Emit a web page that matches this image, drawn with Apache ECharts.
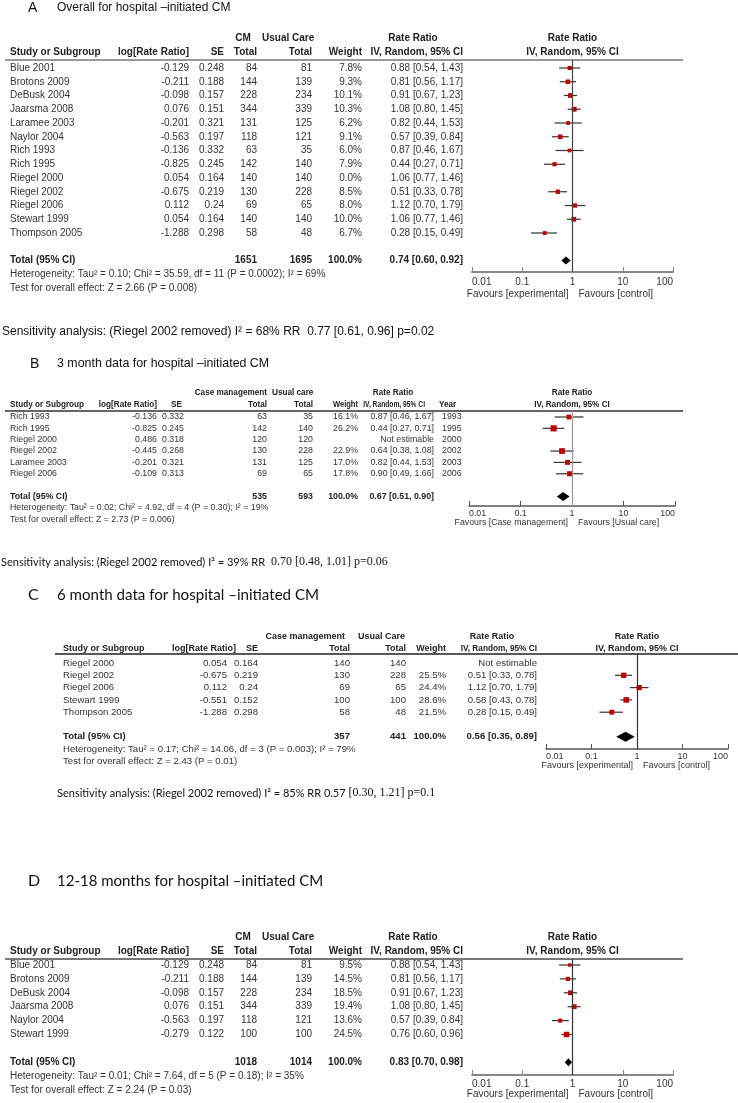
<!DOCTYPE html>
<html><head><meta charset="utf-8">
<script src="https://cdn.jsdelivr.net/npm/echarts@6/dist/echarts.min.js"></script>
<style>html,body{margin:0;padding:0;background:#fff}#c{width:738px;height:1103px}</style>
</head><body><div id="c"></div>
<script>
// ================= DATA =================
const tickLabels = ['0.01', '0.1', '1', '10', '100'];

// ---- A: Overall ----
const A_title = 'Overall for hospital \u2013initiated CM';
const A_studies = ['Blue 2001','Brotons 2009','DeBusk 2004','Jaarsma 2008','Laramee 2003','Naylor 2004','Rich 1993','Rich 1995','Riegel 2000','Riegel 2002','Riegel 2006','Stewart 1999','Thompson 2005'];
const A_logRR = [-0.129,-0.211,-0.098,0.076,-0.201,-0.563,-0.136,-0.825,0.054,-0.675,0.112,0.054,-1.288];
const A_se = [0.248,0.188,0.157,0.151,0.321,0.197,0.332,0.245,0.164,0.219,0.24,0.164,0.298];
const A_cmTotal = [84,144,228,344,131,118,63,142,140,130,69,140,58];
const A_ucTotal = [81,139,234,339,125,121,35,140,140,228,65,140,48];
const A_weight = [7.8,9.3,10.1,10.3,6.2,9.1,6.0,7.9,0.0,8.5,8.0,10.0,6.7];
const A_rr = [0.88,0.81,0.91,1.08,0.82,0.57,0.87,0.44,1.06,0.51,1.12,1.06,0.28];
const A_lo = [0.54,0.56,0.67,0.80,0.44,0.39,0.46,0.27,0.77,0.33,0.70,0.77,0.15];
const A_hi = [1.43,1.17,1.23,1.45,1.53,0.84,1.67,0.71,1.46,0.78,1.79,1.46,0.49];
const A_total = [1651, 1695, 100.0];
const A_totalRR = [0.74, 0.60, 0.92];
const A_notes = ['Heterogeneity: Tau\u00b2 = 0.10; Chi\u00b2 = 35.59, df = 11 (P = 0.0002); I\u00b2 = 69%', 'Test for overall effect: Z = 2.66 (P = 0.008)'];
const A_favours = ['Favours [experimental]', 'Favours [control]'];
const A_sens = ['Sensitivity analysis: (Riegel 2002 removed) I\u00b2 = 68% RR  0.77 [0.61, 0.96] p=0.02', ''];

// ---- B: 3 month ----
const B_title = '3 month data for hospital \u2013initiated CM';
const B_studies = ['Rich 1993','Rich 1995','Riegel 2000','Riegel 2002','Laramee 2003','Riegel 2006'];
const B_logRR = [-0.136,-0.825,0.486,-0.445,-0.201,-0.109];
const B_se = [0.332,0.245,0.318,0.268,0.321,0.313];
const B_cmTotal = [63,142,120,130,131,69];
const B_ucTotal = [35,140,120,228,125,65];
const B_weight = [16.1,26.2,null,22.9,17.0,17.8];
const B_rr = [0.87,0.44,null,0.64,0.82,0.90];
const B_lo = [0.46,0.27,null,0.38,0.44,0.49];
const B_hi = [1.67,0.71,null,1.08,1.53,1.66];
const B_years = ['1993','1995','2000','2002','2003','2006'];
const B_total = [535, 593, 100.0];
const B_totalRR = [0.67, 0.51, 0.90];
const B_notes = ['Heterogeneity: Tau\u00b2 = 0.02; Chi\u00b2 = 4.92, df = 4 (P = 0.30); I\u00b2 = 19%', 'Test for overall effect: Z = 2.73 (P = 0.006)'];
const B_favours = ['Favours [Case management]', 'Favours [Usual care]'];
const B_sens = ['Sensitivity analysis: (Riegel 2002 removed) I\u00b2 = 39% RR ', ' 0.70 [0.48, 1.01] p=0.06'];

// ---- C: 6 month ----
const C_title = '6 month data for hospital \u2013initiated CM';
const C_studies = ['Riegel 2000','Riegel 2002','Riegel 2006','Stewart 1999','Thompson 2005'];
const C_logRR = [0.054,-0.675,0.112,-0.551,-1.288];
const C_se = [0.164,0.219,0.24,0.152,0.298];
const C_cmTotal = [140,130,69,100,58];
const C_ucTotal = [140,228,65,100,48];
const C_weight = [null,25.5,24.4,28.6,21.5];
const C_rr = [null,0.51,1.12,0.58,0.28];
const C_lo = [null,0.33,0.70,0.43,0.15];
const C_hi = [null,0.78,1.79,0.78,0.49];
const C_total = [357, 441, 100.0];
const C_totalRR = [0.56, 0.35, 0.89];
const C_notes = ['Heterogeneity: Tau\u00b2 = 0.17; Chi\u00b2 = 14.06, df = 3 (P = 0.003); I\u00b2 = 79%', 'Test for overall effect: Z = 2.43 (P = 0.01)'];
const C_favours = ['Favours [experimental]', 'Favours [control]'];
const C_sens = ['Sensitivity analysis: (Riegel 2002 removed) I\u00b2 = 85% RR 0.57 ', '[0.30, 1.21] p=0.1'];

// ---- D: 12-18 months ----
const D_title = '12-18 months for hospital \u2013initiated CM';
const D_studies = ['Blue 2001','Brotons 2009','DeBusk 2004','Jaarsma 2008','Naylor 2004','Stewart 1999'];
const D_logRR = [-0.129,-0.211,-0.098,0.076,-0.563,-0.279];
const D_se = [0.248,0.188,0.157,0.151,0.197,0.122];
const D_cmTotal = [84,144,228,344,118,100];
const D_ucTotal = [81,139,234,339,121,100];
const D_weight = [9.5,14.5,18.5,19.4,13.6,24.5];
const D_rr = [0.88,0.81,0.91,1.08,0.57,0.76];
const D_lo = [0.54,0.56,0.67,0.80,0.39,0.60];
const D_hi = [1.43,1.17,1.23,1.45,0.84,0.96];
const D_total = [1018, 1014, 100.0];
const D_totalRR = [0.83, 0.70, 0.98];
const D_notes = ['Heterogeneity: Tau\u00b2 = 0.01; Chi\u00b2 = 7.64, df = 5 (P = 0.18); I\u00b2 = 35%', 'Test for overall effect: Z = 2.24 (P = 0.03)'];
const D_favours = ['Favours [experimental]', 'Favours [control]'];

// ================= LAYOUT =================
const SANS = '"Liberation Sans", Arial, sans-serif';
const LATO = 'Lato, "Noto Sans", sans-serif';
const SERIF = '"Liberation Serif", "Times New Roman", serif';

const hdrStd = [
  ['CM', 243, 1, 'center'], ['Usual Care', 262, 1, 'left'], ['Rate Ratio', 413, 1, 'center'], ['Rate Ratio', 572.5, 1, 'center'],
  ['Study or Subgroup', 10, 2, 'left'], ['log[Rate Ratio]', 189, 2, 'right'], ['SE', 224, 2, 'right'], ['Total', 257, 2, 'right'],
  ['Total', 312, 2, 'right'], ['Weight', 362, 2, 'right'], ['IV, Random, 95% CI', 463, 2, 'right'], ['IV, Random, 95% CI', 572.5, 2, 'center']
];
const colsStd = {study: 10, logrr: 189, se: 224, cm: 257, uc: 312, w: 362, rr: 463};

const L_A = {letter: 'A', letterX: 28, titleX: 57, titleY: 8, titleFamily: SANS, titleSize: 12, letterSize: 14,
  fs: 10, hdrFs: 10, hdrScale: 1, hdr1Y: 38, hdr2Y: 52, lineY: 60, lineX1: 5, lineX2: 683, lineColor: '#999', lineW: 2,
  rowTop: 68, rowStep: 13.75, totalIdx: 14, axisY: 272, axisX1: 472, axisX2: 673, axisColor: '#888', axisW: 2,
  refColor: '#444', axisFs: 10, labelMargin: 5, favY: 294, sq: 1.5, dh: 4, notesX: 10,
  headers: hdrStd, cols: colsStd, sensX: 2, sensY: 332, sensFamily: SANS, sensSize: 12};

const L_B = {letter: 'B', letterX: 30, titleX: 57, titleY: 364, titleFamily: SANS, titleSize: 12.4, letterSize: 14,
  fs: 8.8, hdrFs: 8.8, hdrScale: 0.93, hdr1Y: 393, hdr2Y: 405, lineY: 411, lineX1: 5, lineX2: 683, lineColor: '#333', lineW: 1.5,
  rowTop: 417, rowStep: 11.35, totalIdx: 7, axisY: 506, axisX1: 469, axisX2: 675, axisColor: '#555', axisW: 1.5,
  refColor: '#999', axisFs: 8.8, labelMargin: 3, favY: 523, sq: 1.2, dh: 4.5, notesX: 10,
  headers: [
    ['Case management', 267, 1, 'right'], ['Usual care', 272, 1, 'left'], ['Rate Ratio', 393, 1, 'center'], ['Rate Ratio', 572, 1, 'center'],
    ['Study or Subgroup', 10, 2, 'left'], ['log[Rate Ratio]', 157, 2, 'right'], ['SE', 182, 2, 'right'], ['Total', 267, 2, 'right'],
    ['Total', 313, 2, 'right'], ['Weight', 358, 2, 'right', 0.86], ['IV, Random, 95% CI', 425, 2, 'right', 0.76], ['Year', 439, 2, 'left'],
    ['IV, Random, 95% CI', 572, 2, 'center']
  ],
  cols: {study: 10, logrr: 157, se: 184, cm: 267, uc: 313, w: 358, rr: 434, year: 442},
  sensX: 1, sensY: 562, sensFamily: LATO, sensSize: 11, sens2Family: SERIF, sens2Size: 12};

const L_C = {letter: 'C', letterX: 28, titleX: 57, titleY: 595, titleFamily: LATO, titleSize: 15.1, letterSize: 16,
  fs: 9.6, hdrFs: 9.4, hdrScale: 0.96, hdr1Y: 636, hdr2Y: 648, lineY: 654, lineX1: 55, lineX2: 738, lineColor: '#222', lineW: 1.5,
  rowTop: 663, rowStep: 12.3, totalIdx: 6, axisY: 749, axisX1: 546, axisX2: 728, axisColor: '#555', axisW: 1.5,
  refColor: '#333', axisFs: 9, labelMargin: 3, favY: 766, sq: 1.05, dh: 5, notesX: 63,
  headers: [
    ['Case management', 345, 1, 'right'], ['Usual Care', 405, 1, 'right'], ['Rate Ratio', 492, 1, 'center'], ['Rate Ratio', 637, 1, 'center'],
    ['Study or Subgroup', 63, 2, 'left'], ['log[Rate Ratio]', 236, 2, 'right'], ['SE', 258, 2, 'right'], ['Total', 350, 2, 'right'],
    ['Total', 406, 2, 'right'], ['Weight', 446, 2, 'right'], ['IV, Random, 95% CI', 537, 2, 'right', 0.88], ['IV, Random, 95% CI', 637, 2, 'center']
  ],
  cols: {study: 63, logrr: 227, se: 258, cm: 350, uc: 406, w: 446, rr: 537},
  sensX: 57, sensY: 793, sensFamily: LATO, sensSize: 11, sens2Family: SERIF, sens2Size: 12};

const L_D = {letter: 'D', letterX: 28, titleX: 57, titleY: 881, titleFamily: LATO, titleSize: 15, letterSize: 16,
  fs: 10, hdrFs: 10, hdrScale: 1, hdr1Y: 937, hdr2Y: 951, lineY: 959, lineX1: 5, lineX2: 683, lineColor: '#777', lineW: 2,
  rowTop: 965, rowStep: 13.9, totalIdx: 7, axisY: 1075, axisX1: 472, axisX2: 673, axisColor: '#888', axisW: 2,
  refColor: '#333', axisFs: 10, labelMargin: 4, favY: 1094, sq: 1.1, dh: 4, notesX: 10,
  headers: hdrStd, cols: colsStd};

// ================= BUILD =================
const option = {animation: false, backgroundColor: '#fff', grid: [], xAxis: [], yAxis: [], series: [], graphic: []};

function T(text, x, y, o) {
  const el = {type: 'text', x: x, y: y, silent: true, z: 10,
    style: {text: text, fontSize: o.size, fontFamily: o.family || SANS, fontWeight: o.bold ? 'bold' : 'normal',
      fill: o.color || '#333', align: o.align || 'left', verticalAlign: 'middle'}};
  if (o.sx && o.sx !== 1) el.scaleX = o.sx;
  return el;
}
const fmt2 = v => v.toFixed(2);

function addPanel(d, L) {
  const gi = option.grid.length;
  const G = option.graphic;
  G.push(T(L.letter, L.letterX, L.titleY, {size: L.letterSize, family: L.titleFamily, color: '#111'}));
  G.push(T(d.title, L.titleX, L.titleY, {size: L.titleSize, family: L.titleFamily, color: '#111'}));
  L.headers.forEach(h => G.push(T(h[0], h[1], h[2] === 1 ? L.hdr1Y : L.hdr2Y,
    {size: L.hdrFs, bold: true, align: h[3], color: '#222', sx: h[4] || L.hdrScale})));
  G.push({type: 'line', silent: true, shape: {x1: L.lineX1, y1: L.lineY, x2: L.lineX2, y2: L.lineY}, style: {stroke: L.lineColor, lineWidth: L.lineW}});
  const rowY = i => L.rowTop + i * L.rowStep;
  const c = L.cols;
  d.studies.forEach((s, i) => {
    const y = rowY(i);
    const r = {size: L.fs, align: 'right'};
    G.push(T(s, c.study, y, {size: L.fs}));
    G.push(T(String(d.logRR[i]), c.logrr, y, r));
    G.push(T(String(d.se[i]), c.se, y, r));
    G.push(T(String(d.cm[i]), c.cm, y, r));
    G.push(T(String(d.uc[i]), c.uc, y, r));
    G.push(T(d.weight[i] == null ? '' : d.weight[i].toFixed(1) + '%', c.w, y, r));
    G.push(T(d.rr[i] == null ? 'Not estimable' : fmt2(d.rr[i]) + ' [' + fmt2(d.lo[i]) + ', ' + fmt2(d.hi[i]) + ']', c.rr, y, r));
    if (d.years) G.push(T(d.years[i], c.year, y, {size: L.fs}));
  });
  const ty = rowY(L.totalIdx);
  const b = {size: L.fs, align: 'right', bold: true, color: '#222'};
  G.push(T('Total (95% CI)', c.study, ty, {size: L.fs, bold: true, color: '#222'}));
  G.push(T(String(d.total[0]), c.cm, ty, b));
  G.push(T(String(d.total[1]), c.uc, ty, b));
  G.push(T(d.total[2].toFixed(1) + '%', c.w, ty, b));
  G.push(T(fmt2(d.totalRR[0]) + ' [' + fmt2(d.totalRR[1]) + ', ' + fmt2(d.totalRR[2]) + ']', c.rr, ty, b));
  G.push(T(d.notes[0], L.notesX, rowY(L.totalIdx + 1), {size: L.fs}));
  G.push(T(d.notes[1], L.notesX, rowY(L.totalIdx + 2), {size: L.fs}));
  const oneX = L.axisX1 + (L.axisX2 - L.axisX1) / 2;
  G.push(T(d.favours[0], oneX - 4, L.favY, {size: L.axisFs, align: 'right'}));
  G.push(T(d.favours[1], oneX + 6, L.favY, {size: L.axisFs}));
  if (d.sens) {
    const rich = {a: {fontFamily: L.sensFamily, fontSize: L.sensSize, fill: '#111'},
                  b: {fontFamily: L.sens2Family || L.sensFamily, fontSize: L.sens2Size || L.sensSize, fill: '#111'}};
    G.push({type: 'text', x: L.sensX, y: L.sensY, silent: true,
      style: {text: '{a|' + d.sens[0] + '}' + (d.sens[1] ? '{b|' + d.sens[1] + '}' : ''), rich: rich, verticalAlign: 'middle', align: 'left',
        fontFamily: L.sensFamily, fontSize: L.sensSize, fill: '#111'}});
  }

  // ---- plot ----
  const ymin = -(L.rowTop - L.lineY) / L.rowStep;
  const ymax = ymin + (L.axisY - L.lineY) / L.rowStep;
  option.grid.push({left: L.axisX1, top: L.lineY, width: L.axisX2 - L.axisX1, height: L.axisY - L.lineY, containLabel: false});
  option.xAxis.push({gridIndex: gi, type: 'log', logBase: 10, min: 0.01, max: 100, position: 'bottom',
    axisLine: {show: true, onZero: false, lineStyle: {color: L.axisColor, width: L.axisW}},
    axisTick: {show: true, inside: true, length: 5, lineStyle: {color: L.axisColor, width: 1}},
    minorTick: {show: false}, splitLine: {show: false},
    axisLabel: {fontSize: L.axisFs, color: '#333', fontFamily: SANS, margin: L.labelMargin,
      alignMinLabel: 'left', alignMaxLabel: 'right', showMinLabel: true, showMaxLabel: true,
      formatter: v => tickLabels[Math.round(Math.log10(v)) + 2]}});
  option.yAxis.push({gridIndex: gi, type: 'value', inverse: true, min: ymin, max: ymax, show: false});

  const rows = [];
  d.studies.forEach((s, i) => {
    if (d.rr[i] != null && d.weight[i] > 0) rows.push([i, d.lo[i], d.hi[i], d.rr[i], d.weight[i]]);
  });
  option.series.push({type: 'custom', xAxisIndex: gi, yAxisIndex: gi, data: rows, encode: {x: [1, 2, 3], y: 0}, z: 3,
    renderItem: function (params, api) {
      const i = api.value(0);
      const p1 = api.coord([api.value(1), i]), p2 = api.coord([api.value(2), i]), pc = api.coord([api.value(3), i]);
      const s = Math.max(3, L.sq * Math.sqrt(api.value(4)));
      return {type: 'group', children: [
        {type: 'line', shape: {x1: p1[0], y1: p1[1], x2: p2[0], y2: p2[1]}, style: {stroke: '#333', lineWidth: 1.2}},
        {type: 'rect', shape: {x: pc[0] - s / 2, y: pc[1] - s / 2, width: s, height: s}, style: {fill: '#c00000'}}
      ]};
    },
    markLine: {silent: true, symbol: 'none', animation: false, label: {show: false},
      lineStyle: {color: L.refColor, width: 1.2, type: 'solid'}, data: [{xAxis: 1}]}
  });
  option.series.push({type: 'custom', xAxisIndex: gi, yAxisIndex: gi, z: 4,
    data: [[L.totalIdx, d.totalRR[1], d.totalRR[2], d.totalRR[0]]], encode: {x: [1, 2, 3], y: 0},
    renderItem: function (params, api) {
      const i = api.value(0);
      const pl = api.coord([api.value(1), i]), ph = api.coord([api.value(2), i]), pc = api.coord([api.value(3), i]);
      return {type: 'polygon', shape: {points: [[pl[0], pl[1]], [pc[0], pc[1] - L.dh], [ph[0], ph[1]], [pc[0], pc[1] + L.dh]]},
        style: {fill: '#000'}};
    }
  });
}

addPanel({title: A_title, studies: A_studies, logRR: A_logRR, se: A_se, cm: A_cmTotal, uc: A_ucTotal, weight: A_weight,
  rr: A_rr, lo: A_lo, hi: A_hi, total: A_total, totalRR: A_totalRR, notes: A_notes, favours: A_favours, sens: A_sens}, L_A);
addPanel({title: B_title, studies: B_studies, logRR: B_logRR, se: B_se, cm: B_cmTotal, uc: B_ucTotal, weight: B_weight,
  rr: B_rr, lo: B_lo, hi: B_hi, years: B_years, total: B_total, totalRR: B_totalRR, notes: B_notes, favours: B_favours, sens: B_sens}, L_B);
addPanel({title: C_title, studies: C_studies, logRR: C_logRR, se: C_se, cm: C_cmTotal, uc: C_ucTotal, weight: C_weight,
  rr: C_rr, lo: C_lo, hi: C_hi, total: C_total, totalRR: C_totalRR, notes: C_notes, favours: C_favours, sens: C_sens}, L_C);
addPanel({title: D_title, studies: D_studies, logRR: D_logRR, se: D_se, cm: D_cmTotal, uc: D_ucTotal, weight: D_weight,
  rr: D_rr, lo: D_lo, hi: D_hi, total: D_total, totalRR: D_totalRR, notes: D_notes, favours: D_favours}, L_D);

const chart = echarts.init(document.getElementById('c'), null, {renderer: 'canvas'});
chart.setOption(option);
</script>
</body></html>
